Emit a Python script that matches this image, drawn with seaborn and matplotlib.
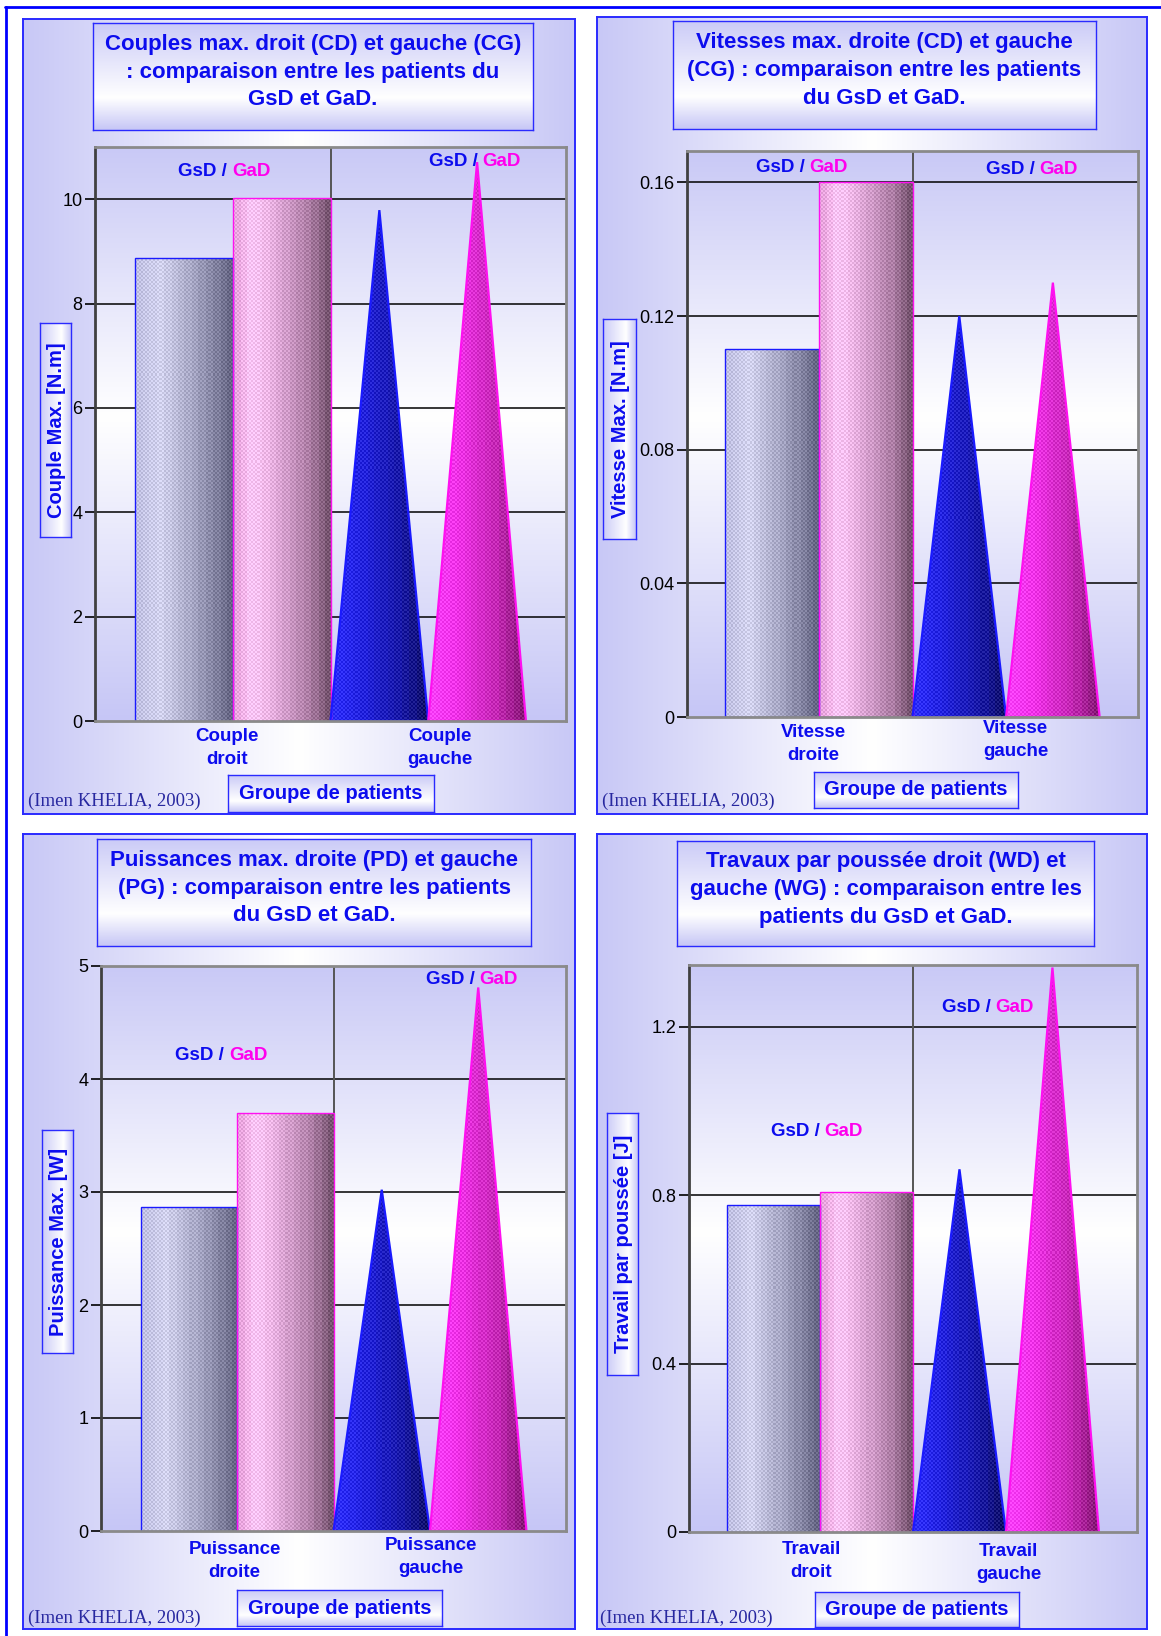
import numpy as np
import pandas as pd
import seaborn as sns
import matplotlib.pyplot as plt
from matplotlib.colors import to_rgb
from matplotlib.patches import Polygon
from matplotlib.lines import Line2D

# ---- values ----
categories = ['droit', 'gauche']
groups = ['GsD', 'GaD']

couple_gsd = [8.88, 9.79]
couple_gad = [10.02, 10.71]
vitesse_gsd = [0.110, 0.120]
vitesse_gad = [0.160, 0.130]
puissance_gsd = [2.87, 3.02]
puissance_gad = [3.70, 4.81]
travail_gsd = [0.777, 0.861]
travail_gad = [0.807, 1.34]

titles = [
    "Couples max. droit (CD) et gauche (CG)\n: comparaison entre les patients du\nGsD et GaD.",
    "Vitesses max. droite (CD) et gauche\n(CG) : comparaison entre les patients\ndu GsD et GaD.",
    "Puissances max. droite (PD) et gauche\n(PG) : comparaison entre les patients\ndu GsD et GaD.",
    "Travaux par poussée droit (WD) et\ngauche (WG) : comparaison entre les\npatients du GsD et GaD.",
]
ylabels = ["Couple Max. [N.m]", "Vitesse Max. [N.m]",
           "Puissance Max. [W]", "Travail par poussée [J]"]
xlabels = [["Couple\ndroit", "Couple\ngauche"],
           ["Vitesse\ndroite", "Vitesse\ngauche"],
           ["Puissance\ndroite", "Puissance\ngauche"],
           ["Travail\ndroit", "Travail\ngauche"]]
yticks = [[0, 2, 4, 6, 8, 10], [0, 0.04, 0.08, 0.12, 0.16],
          [0, 1, 2, 3, 4, 5], [0, 0.4, 0.8, 1.2]]
ytick_labels = [['0', '2', '4', '6', '8', '10'],
                ['0', '0.04', '0.08', '0.12', '0.16'],
                ['0', '1', '2', '3', '4', '5'],
                ['0', '0.4', '0.8', '1.2']]
ymax = [11.0, 0.1694, 5.0, 1.346]
series = [(couple_gsd, couple_gad), (vitesse_gsd, vitesse_gad),
          (puissance_gsd, puissance_gad), (travail_gsd, travail_gad)]
credit = "(Imen KHELIA, 2003)"

# ---- layout (pixels, top-left origin) ----
W, H = 1161, 1636
layout = [
    dict(panel=(23, 19, 575, 814), title=(93, 23, 533, 130), plot=(95, 147, 566, 721),
         ylab=(40, 323, 71, 537), group=(228, 775, 434, 812), credit=(28, 801),
         tags=[(0.285, 0.958), (0.816, 0.975)], xlab_x=[0.281, 0.732], xlab_off=[27, 27]),
    dict(panel=(597, 17, 1147, 814), title=(673, 21, 1096, 129), plot=(687, 151, 1138, 717),
         ylab=(603, 319, 636, 539), group=(814, 772, 1018, 808), credit=(602, 801),
         tags=[(0.266, 0.970), (0.775, 0.967)], xlab_x=[0.28, 0.729], xlab_off=[27, 23]),
    dict(panel=(23, 834, 575, 1629), title=(97, 839, 531, 946), plot=(101, 966, 566, 1531),
         ylab=(42, 1130, 73, 1353), group=(237, 1590, 442, 1626), credit=(28, 1618),
         tags=[(0.269, 0.841), (0.807, 0.976)], xlab_x=[0.287, 0.709], xlab_off=[30, 26]),
    dict(panel=(597, 834, 1147, 1629), title=(677, 841, 1094, 946), plot=(689, 965, 1137, 1532),
         ylab=(607, 1113, 638, 1375), group=(815, 1592, 1019, 1627), credit=(600, 1618),
         tags=[(0.296, 0.706), (0.678, 0.925)], xlab_x=[0.273, 0.713], xlab_off=[29, 31]),
]

BLUE = '#0c0cee'
MAGENTA = '#ff00ee'
PANEL_STOPS = [(0, '#c8c8f6'), (0.5, '#ffffff'), (1, '#c8c8f6')]
PLOT_STOPS = [(0, '#c9c9f6'), (0.47, '#ffffff'), (1, '#c6c6f6')]
BOX_STOPS = [(0, '#cbcbf7'), (0.7, '#ffffff'), (1, '#c6c6f6')]
fills = {
    ('GsD', 0): [(0, '#c0c0e2'), (0.25, '#d2d2ee'), (0.6, '#a4a4c2'), (1, '#626280')],
    ('GaD', 0): [(0, '#e6a0da'), (0.2, '#ffc8f8'), (0.45, '#e0a8d8'), (0.75, '#b080a8'), (1, '#6e4e68')],
    ('GsD', 1): [(0, '#3030ff'), (0.3, '#2424e0'), (0.7, '#1a1aa8'), (1, '#101060')],
    ('GaD', 1): [(0, '#ff40ff'), (0.3, '#f032e8'), (0.7, '#c428b4'), (1, '#801870')],
}
edges = {'GsD': '#1a1aff', 'GaD': '#ff10f0'}
shift = [0.085, -0.085]


def rect(x0, y0, x1, y1):
    return [x0 / W, 1 - y1 / H, (x1 - x0) / W, (y1 - y0) / H]


def ramp(stops, xs):
    pos = [p for p, _ in stops]
    cols = np.array([to_rgb(c) for _, c in stops])
    return np.stack([np.interp(xs, pos, cols[:, k]) for k in range(3)], axis=-1)


def grad(stops, vertical=False, n=256):
    row = ramp(stops, np.linspace(0, 1, n))
    return row[:, None, :] if vertical else row[None, :, :]


def fill_image(stops, ncols, nrows, bands=14, dither=0.05):
    xs = (np.floor(np.linspace(0, 1, ncols, endpoint=False) * bands) + 0.5) / bands
    img = np.repeat(ramp(stops, xs)[None, :, :], nrows, axis=0)
    chk = (np.add.outer(np.arange(nrows), np.arange(ncols)) % 2) * 2 - 1
    return np.clip(img + dither * chk[..., None], 0, 1)


def box(r, stops, vertical, edge, lw, z):
    bx = fig.add_axes(rect(*r), zorder=z)
    bx.imshow(grad(stops, vertical=vertical), extent=[0, 1, 0, 1],
              aspect='auto', interpolation='bilinear')
    bx.set_xlim(0, 1)
    bx.set_ylim(0, 1)
    bx.set_xticks([])
    bx.set_yticks([])
    for s in bx.spines.values():
        s.set_color(edge)
        s.set_linewidth(lw)
    return bx


sns.set_style('white')
plt.rcParams['font.family'] = ['Liberation Sans', 'DejaVu Sans']

fig = plt.figure(figsize=(W / 100, H / 100), dpi=100)

# page frame
fig.add_artist(Line2D([5 / W, 1], [1 - 7 / H, 1 - 7 / H], color='#0000ff', lw=2))
fig.add_artist(Line2D([6 / W, 6 / W], [0, 1 - 7 / H], color='#0000ff', lw=2))

for i, L in enumerate(layout):
    box(L['panel'], PANEL_STOPS, False, '#2a2aff', 1.4, 0)

    tb = box(L['title'], BOX_STOPS, True, '#2a2aff', 1.0, 1)
    tb.text(0.5, 0.54, titles[i], ha='center', va='center', color=BLUE,
            fontsize=16, fontweight='bold', linespacing=1.42)

    yb = box(L['ylab'], BOX_STOPS, False, '#2a2aff', 1.0, 1)
    yb.text(0.52, 0.5, ylabels[i], rotation=90, ha='center', va='center',
            color=BLUE, fontsize=14.5, fontweight='bold')

    gb = box(L['group'], BOX_STOPS, True, '#2a2aff', 1.0, 1)
    gb.text(0.5, 0.5, "Groupe de patients", ha='center', va='center',
            color=BLUE, fontsize=14.5, fontweight='bold')

    cx, cy = L['credit']
    fig.text(cx / W, 1 - cy / H, credit, family=['Liberation Serif', 'DejaVu Serif'],
             fontsize=13.5, color='#2828a0', va='center', ha='left')

    # ---- plot area ----
    ax = fig.add_axes(rect(*L['plot']), zorder=2)
    gsd, gad = series[i]
    df = pd.DataFrame({'cote': categories * 2,
                       'groupe': [groups[0]] * 2 + [groups[1]] * 2,
                       'valeur': list(gsd) + list(gad)})
    sns.barplot(data=df, x='cote', y='valeur', hue='groupe', order=categories,
                hue_order=groups, palette={'GsD': '#a8a8c8', 'GaD': '#e0a0d8'},
                width=0.83, saturation=1, errorbar=None, legend=False, ax=ax)
    ax.set_xlim(-0.5, 1.5)
    ax.set_ylim(0, ymax[i])
    ax.autoscale(False)
    ax.imshow(grad(PLOT_STOPS, vertical=True), extent=[-0.5, 1.5, 0, ymax[i]],
              aspect='auto', interpolation='bilinear', zorder=0)
    for t in yticks[i][1:]:
        ax.axhline(t, color='black', lw=1.1, zorder=1)
    ax.axvline(0.5, color='#555555', lw=1.4, zorder=1)

    for g, cont in zip(groups, ax.containers):
        for j, bar in enumerate(cont.patches):
            bar.set_x(bar.get_x() + shift[j])
            x0, w, h = bar.get_x(), bar.get_width(), bar.get_height()
            p0 = ax.transData.transform((x0, 0))
            p1 = ax.transData.transform((x0 + w, h))
            ncols = max(int((p1[0] - p0[0]) / 2), 2)
            nrows = max(int((p1[1] - p0[1]) / 2), 2)
            img = fill_image(fills[(g, j)], ncols, nrows)
            im = ax.imshow(img, extent=[x0, x0 + w, 0, h], aspect='auto',
                           interpolation='nearest', zorder=3)
            if j == 0:
                im.set_clip_path(bar)
                bar.set_facecolor('none')
                bar.set_edgecolor(edges[g])
                bar.set_linewidth(1.0)
                bar.set_zorder(4)
            else:
                tri = Polygon([(x0, 0), (x0 + w / 2, h), (x0 + w, 0)], closed=True,
                              facecolor='none', edgecolor=edges[g], lw=1.6, zorder=4)
                ax.add_patch(tri)
                im.set_clip_path(tri)
                bar.set_visible(False)

    ax.set_yticks(yticks[i])
    ax.set_yticklabels(ytick_labels[i])
    ax.set_xticks([])
    ax.set_xlabel('')
    ax.set_ylabel('')
    ax.tick_params(axis='y', left=True, length=7, width=1.2, colors='black',
                   labelsize=13, pad=2)
    for name, s in ax.spines.items():
        s.set_visible(True)
        s.set_linewidth(2)
        s.set_color('#404040' if name == 'left' else '#8a8a8a')
        s.set_zorder(5)

    for bx_, by_ in L['tags']:
        ax.text(bx_ - 0.004, by_, 'GsD /', transform=ax.transAxes, ha='right',
                va='center', color=BLUE, fontsize=13.5, fontweight='bold', zorder=6)
        ax.text(bx_ + 0.006, by_, 'GaD', transform=ax.transAxes, ha='left',
                va='center', color=MAGENTA, fontsize=13.5, fontweight='bold', zorder=6)

    plot_h = L['plot'][3] - L['plot'][1]
    for j, lab in enumerate(xlabels[i]):
        ax.text(L['xlab_x'][j], -L['xlab_off'][j] / plot_h, lab, transform=ax.transAxes,
                ha='center', va='center', color=BLUE, fontsize=13.5,
                fontweight='bold', linespacing=1.4)

fig.savefig('out.png', dpi=100)
